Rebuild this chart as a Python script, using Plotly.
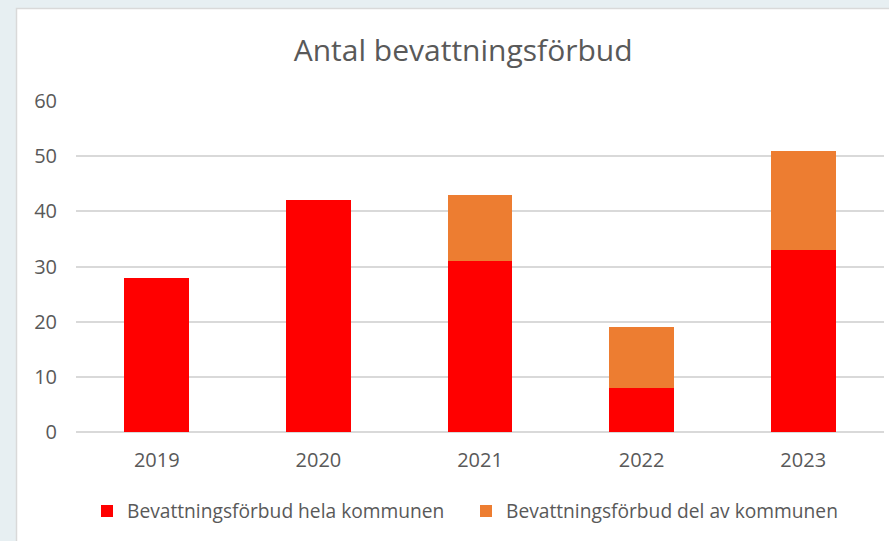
import plotly.graph_objects as go

years = ["2019", "2020", "2021", "2022", "2023"]
hela = [28, 42, 31, 8, 33]
del_av = [0, 0, 12, 11, 18]
series_names = ["Bevattningsförbud hela kommunen", "Bevattningsförbud del av kommunen"]
y_ticks = [0, 10, 20, 30, 40, 50, 60]
title_text = "Antal bevattningsförbud"

FONT = "Open Sans"
GRAY = "#595959"

fig = go.Figure()
fig.add_trace(go.Bar(x=years, y=hela, name=series_names[0], marker=dict(color="#FF0000", line=dict(width=0)),
                     width=0.4, legend="legend"))
fig.add_trace(go.Bar(x=years, y=del_av, name=series_names[1], marker=dict(color="#ED7D31", line=dict(width=0)),
                     width=0.4, legend="legend2"))

W, H = 889, 541
L, R, T, B = 76, 5, 101, 109
pw, ph = W - L - R, H - T - B

def px_x(p):
    return (p - L) / pw

def px_y(p):
    return (H - B - p) / ph

leg_common = dict(orientation="h", xanchor="left", yanchor="middle", y=px_y(511),
                  font=dict(family=FONT, size=19.2, color=GRAY), bgcolor="rgba(0,0,0,0)", borderwidth=0)

fig.update_layout(
    width=W, height=H,
    barmode="stack",
    margin=dict(l=L, r=R, t=T, b=B, pad=0),
    paper_bgcolor="#E7EFF2",
    plot_bgcolor="rgba(0,0,0,0)",
    font=dict(family=FONT, color=GRAY, size=20),
    title=dict(text=title_text, x=0.521, xanchor="center", y=1 - 50 / H, yanchor="middle",
               font=dict(family=FONT, size=30, color=GRAY)),
    showlegend=True,
    legend=dict(x=px_x(87), **leg_common),
    legend2=dict(x=px_x(466), **leg_common),
    shapes=[dict(type="rect", xref="paper", yref="paper", x0=px_x(16.5), x1=px_x(900), y0=px_y(560), y1=px_y(8.5),
                 fillcolor="white", line=dict(color="#D9D9D9", width=1.5), layer="below")],
)
fig.update_yaxes(range=[0, 60], tickvals=y_ticks, showgrid=True, gridcolor="#D9D9D9", gridwidth=1.5,
                 zeroline=True, zerolinecolor="#D9D9D9", zerolinewidth=1.5, showline=False,
                 ticks="", ticklabelstandoff=18, tickfont=dict(size=20, color=GRAY, family=FONT))
fig.update_xaxes(showgrid=False, showline=False, ticks="", ticklabelstandoff=14,
                 tickfont=dict(size=20, color=GRAY, family=FONT))

fig.write_html("out.html", config={"displayModeBar": False},
               post_script="document.body.style.margin='0';")
